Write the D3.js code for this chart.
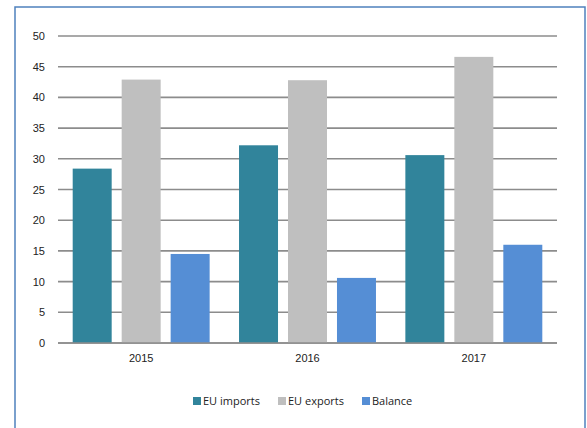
<!DOCTYPE html>
<html lang="en">
<head>
  <meta charset="UTF-8">
  <title>EU trade</title>
  <script src="https://d3js.org/d3.v7.min.js"></script>
  <style>
    body { margin: 0; background: #fff; }
    svg { display: block; font-family: "Open Sans", sans-serif; }
    .tick text { font-size: 11px; fill: #222; }
    .legend text { font-size: 11px; fill: #222; }
  </style>
</head>
<body>
  <svg width="587" height="428"></svg>

  <script>
    // values
    const years = ["2015", "2016", "2017"];
    const imports = [28.4, 32.2, 30.6];
    const exports = [42.9, 42.8, 46.6];
    const balance = [14.5, 10.6, 16.0];
    const seriesNames = ["EU imports", "EU exports", "Balance"];
    const yTicks = [0, 5, 10, 15, 20, 25, 30, 35, 40, 45, 50];

    const colors = ["#31849b", "#bfbfbf", "#558ed5"];

    const svg = d3.select("svg");

    // outer frame
    svg.append("rect")
      .attr("x", 15).attr("y", 7)
      .attr("width", 570).attr("height", 440)
      .attr("fill", "#fff")
      .attr("stroke", "#4f81bd")
      .attr("stroke-width", 1.5);

    const plot = {left: 58, right: 557, top: 36, bottom: 343};

    const x = d3.scaleBand().domain(years).range([plot.left, plot.right]).padding(0);
    const xs = d3.scaleBand().domain(seriesNames).range([0, x.bandwidth()])
      .paddingInner(0.204).paddingOuter(0.3);
    const y = d3.scaleLinear().domain([0, 50]).range([plot.bottom, plot.top]);

    // gridlines
    svg.append("g")
      .selectAll("line")
      .data(yTicks)
      .join("line")
        .attr("x1", plot.left).attr("x2", plot.right)
        .attr("y1", d => y(d)).attr("y2", d => y(d))
        .attr("stroke", "#8c8c8c")
        .attr("stroke-width", 1.6);

    // y labels
    const yAxis = svg.append("g")
      .attr("transform", `translate(${plot.left},0)`)
      .call(d3.axisLeft(y).tickValues(yTicks).tickSize(0).tickPadding(13));
    yAxis.select(".domain").remove();

    // x labels
    const xAxis = svg.append("g")
      .attr("transform", `translate(0,${plot.bottom})`)
      .call(d3.axisBottom(x).tickSize(0).tickPadding(11));
    xAxis.select(".domain").remove();

    const table = years.map((yr, i) => ({
      year: yr,
      vals: [imports[i], exports[i], balance[i]]
    }));

    svg.append("g")
      .selectAll("g")
      .data(table)
      .join("g")
        .attr("transform", d => `translate(${x(d.year)},0)`)
      .selectAll("rect")
      .data(d => d.vals.map((v, k) => ({ key: seriesNames[k], value: v, k })))
      .join("rect")
        .attr("x", d => xs(d.key))
        .attr("width", xs.bandwidth())
        .attr("y", d => y(d.value))
        .attr("height", d => y(0) - y(d.value))
        .attr("fill", d => colors[d.k]);

    // zero line on top
    svg.append("line")
      .attr("x1", plot.left).attr("x2", plot.right)
      .attr("y1", y(0)).attr("y2", y(0))
      .attr("stroke", "#8c8c8c")
      .attr("stroke-width", 1.6);

    // legend
    const legendX = [193, 278, 362];
    const legend = svg.append("g").attr("class", "legend")
      .selectAll("g")
      .data(seriesNames)
      .join("g")
        .attr("transform", (d, i) => `translate(${legendX[i]},401)`);
    legend.append("rect")
      .attr("x", 0).attr("y", -4)
      .attr("width", 8).attr("height", 8)
      .attr("fill", (d, i) => colors[i]);
    legend.append("text")
      .attr("x", 10).attr("dy", "0.35em")
      .text(d => d);
  </script>
</body>
</html>
